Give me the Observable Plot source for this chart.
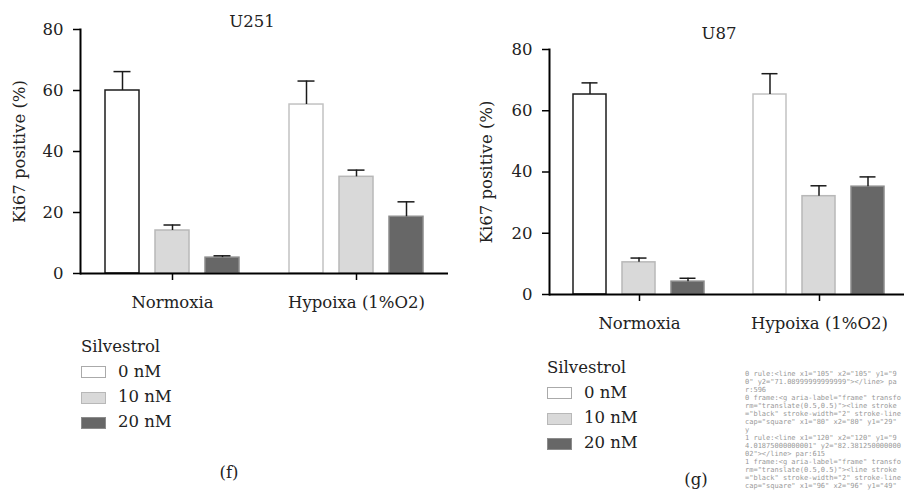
<!DOCTYPE html>
<html><head><meta charset="utf-8">
<script src="https://cdn.jsdelivr.net/npm/d3@7"></script>
<script src="https://cdn.jsdelivr.net/npm/@observablehq/plot@0.6"></script>
<style>
body{margin:0;background:#fff;font-family:"DejaVu Serif",serif;color:#222}
#root{position:relative;width:904px;height:491px;overflow:hidden;background:#fff}
.panel{position:absolute;top:0}
.abs{position:absolute;font-size:16.5px;white-space:nowrap;line-height:1}
.ctr{transform:translate(-50%,-50%)}
.sw{position:absolute;width:25px;height:12px;box-sizing:border-box;border:1.5px solid #aaa}
#dbg{position:absolute;left:745px;top:370px;width:158px;font:7px/8px "DejaVu Sans Mono",monospace;color:#999;white-space:pre-wrap;word-break:break-all}
</style></head><body><div id="root"></div>
<script>
const groups = ["Normoxia", "Hypoixa (1%O2)"];
const doses = ["0 nM", "10 nM", "20 nM"];
const legendTitle = "Silvestrol";
const yLabel = "Ki67 positive (%)";
const yTicks = [0, 20, 40, 60, 80];
const titles = ["U251", "U87"];
const tags = ["(f)", "(g)"];
// values in order: Normoxia 0/10/20 nM, Hypoixa 0/10/20 nM
const u251Mean = [60.0, 14.1, 5.2, 55.4, 31.7, 18.6];
const u251Err = [6.2, 1.8, 0.6, 7.7, 2.2, 4.9];
const u87Mean = [65.3, 10.5, 4.2, 65.3, 32.1, 35.2];
const u87Err = [3.8, 1.4, 1.1, 6.8, 3.4, 3.2];

const fills = ["#ffffff", "#d9d9d9", "#676767"];
const strokes = ["#1c1c1c", "#b8b8b8", "#8c8c8c"];
const ink = "#1a1a1a";
const root = document.getElementById("root");

function rowsOf(mean, err) {
  const rows = [];
  groups.forEach((g, gi) => doses.forEach((d, di) => {
    const i = gi * doses.length + di;
    rows.push({group: g, dose: d, gi, di, value: mean[i], top: mean[i] + err[i]});
  }));
  return rows;
}
const baseRows = groups.map(g => ({group: g, base: yTicks[0]}));

const layouts = [
  {left: 0, width: 452, height: 330, mt: 29, mb: 57, ml: 80, mr: 4, xpi: 0.327, xpo: 0.485, lo: 67,
   title: [252, 22], legend: [81, 347, 25.3, 118], tag: [229, 473]},
  {left: 452, width: 460, height: 350, mt: 49, mb: 56, ml: 96, mr: 3, xpi: 0.322, xpo: 0.478, lo: 69,
   title: [719, 34], legend: [547, 368, 25.3, 584], tag: [696, 480]}
];
const data = [[u251Mean, u251Err], [u87Mean, u87Err]];
const dbg = [];

layouts.forEach((L, p) => {
  const rows = rowsOf(data[p][0], data[p][1]);
  const strokeOf = d => d.di === 0 ? (d.gi === 0 ? strokes[0] : "#c2c2c2") : strokes[d.di];
  const chart = Plot.plot({
    width: L.width, height: L.height,
    marginTop: L.mt, marginBottom: L.mb, marginLeft: L.ml, marginRight: L.mr,
    style: {fontFamily: "DejaVu Serif", fontSize: "16.5px", color: "#222", background: "transparent", overflow: "visible", maxWidth: "none"},
    fx: {domain: groups, padding: 0},
    x: {domain: doses, axis: null, paddingInner: L.xpi, paddingOuter: L.xpo},
    y: {domain: [0, 80]},
    marks: [
      Plot.barY(rows, {fx: "group", x: "dose", y: "value", fill: d => fills[d.di], stroke: strokeOf, strokeWidth: 1.5}),
      Plot.ruleX(rows, {fx: "group", x: "dose", y1: "value", y2: "top", stroke: ink, strokeWidth: 1.5}),
      Plot.tickY(rows, {fx: "group", x: "dose", y: "top", stroke: ink, strokeWidth: 1.5, insetLeft: 8.5, insetRight: 8.5}),
      Plot.ruleY(baseRows, {fx: "group", y: "base", stroke: "black", strokeWidth: 2}),
      Plot.frame({anchor: "left", fx: [groups[0]], stroke: "black", strokeWidth: 2}),
      Plot.axisY({ticks: yTicks, tickSize: 7, tickPadding: 10, stroke: "black", strokeWidth: 1.5,
                  label: yLabel, labelAnchor: "center", labelOffset: L.lo, labelArrow: "none"}),
      Plot.axisFx({anchor: "bottom", tickSize: 7, tickPadding: 16, stroke: "black", strokeWidth: 1.5, label: null})
    ]
  });
  const holder = document.createElement("div");
  holder.className = "panel";
  holder.style.left = L.left + "px";
  holder.style.width = L.width + "px";
  holder.appendChild(chart);
  root.appendChild(holder);

  const rl = chart.querySelector('g[aria-label="rule"] line');
  const fr = chart.querySelector('g[aria-label="frame"]');
  const rg = chart.querySelector('g[aria-label="rule"]');
  dbg.push(p + " rule:" + (rl ? rl.outerHTML.slice(0, 110) : "none") + " par:" + (rg ? rg.outerHTML.length : 0));
  dbg.push(p + " frame:" + (fr ? fr.outerHTML.slice(0, 140) : "none"));

  const t = document.createElement("div");
  t.className = "abs ctr";
  t.style.left = L.title[0] + "px"; t.style.top = L.title[1] + "px";
  t.textContent = titles[p];
  root.appendChild(t);

  const [lx, ly, step, tx] = L.legend;
  const lt = document.createElement("div");
  lt.className = "abs";
  lt.style.left = lx + "px"; lt.style.top = (ly - 8.5) + "px";
  lt.textContent = legendTitle;
  root.appendChild(lt);
  doses.forEach((d, i) => {
    const cy = ly + step * (i + 1);
    const sw = document.createElement("div");
    sw.className = "sw";
    sw.style.left = lx + "px"; sw.style.top = (cy - 6) + "px";
    sw.style.background = fills[i];
    sw.style.borderColor = i === 0 ? "#aaaaaa" : strokes[i];
    root.appendChild(sw);
    const tl = document.createElement("div");
    tl.className = "abs";
    tl.style.left = tx + "px"; tl.style.top = (cy - 8.5) + "px";
    tl.textContent = d;
    root.appendChild(tl);
  });
  const tg = document.createElement("div");
  tg.className = "abs ctr";
  tg.style.left = L.tag[0] + "px"; tg.style.top = L.tag[1] + "px";
  tg.textContent = tags[p];
  root.appendChild(tg);
});
const db = document.createElement("div");
db.id = "dbg";
db.textContent = dbg.join("\n");
root.appendChild(db);
</script></body></html>
